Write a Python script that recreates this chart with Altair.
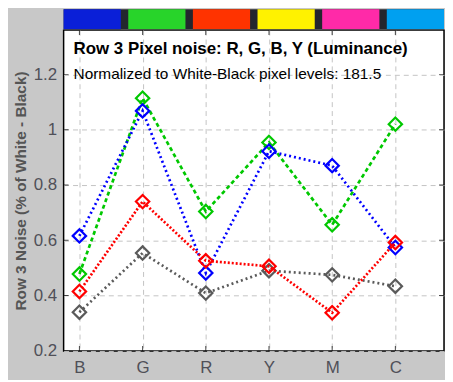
import altair as alt
import pandas as pd

categories = ["B", "G", "R", "Y", "M", "C"]
blue_vals = [0.616, 1.068, 0.482, 0.922, 0.870, 0.574]
green_vals = [0.478, 1.114, 0.704, 0.954, 0.656, 1.020]
red_vals = [0.415, 0.740, 0.526, 0.506, 0.338, 0.592]
gray_vals = [0.340, 0.554, 0.409, 0.490, 0.475, 0.434]

series_names = ["gray", "green", "blue", "red"]
series_values = [gray_vals, green_vals, blue_vals, red_vals]
series_colors = {"gray": "#5a5a5a", "green": "#00c800", "blue": "#0000ff", "red": "#ff0000"}
series_dash = {"gray": [2, 3], "green": [4, 3], "blue": [2, 3], "red": [2, 2]}

strip_names = ["Blue", "Green", "Red", "Yellow", "Magenta", "Cyan"]
strip_colors = ["#0a1fd8", "#28d42a", "#ff3300", "#fff200", "#ff2aa8", "#00a0f0"]

title_text = "Row 3 Pixel noise: R, G, B, Y (Luminance)"
subtitle_text = "Normalized to White-Black pixel levels: 181.5"
y_title = "Row 3 Noise (% of White - Black)"
y_ticks = [0.2, 0.4, 0.6, 0.8, 1.0, 1.2]

W, H = 383, 323
FONT = "Liberation Sans"

rows = []
for name, vals in zip(series_names, series_values):
    for i, (c, v) in enumerate(zip(categories, vals)):
        rows.append({"series": name, "pos": i + 1, "cat": c, "value": v})
df = pd.DataFrame(rows)

xscale = alt.Scale(domain=[0.75, 6.77], nice=False, zero=False)
yscale = alt.Scale(domain=[0.2, 1.36], nice=False, zero=False)

label_expr = "[" + ",".join("'%s'" % c for c in categories) + "][datum.value - 1]"

x_axis = alt.Axis(values=list(range(1, 7)), labelExpr=label_expr, title=None,
                  grid=True, gridDash=[5, 4], gridColor="#c4c4c4", ticks=False,
                  domain=False, labelFontSize=17, labelColor="#505058",
                  labelPadding=9, labelFont=FONT)
y_axis = alt.Axis(values=y_ticks,
                  labelExpr="datum.value == 1 ? '1' : format(datum.value, '.1f')",
                  title=y_title, titleFontSize=15.5, titleFont=FONT, titleColor="#555555",
                  titleFontWeight="bold", titlePadding=5,
                  grid=True, gridDash=[5, 4], gridColor="#c4c4c4", ticks=False,
                  domain=False, labelFontSize=17, labelColor="#505058",
                  labelPadding=7, labelFont=FONT)

layers = []
for name in series_names:
    sub = df[df.series == name]
    base = alt.Chart(sub).encode(
        x=alt.X("pos:Q", scale=xscale, axis=x_axis),
        y=alt.Y("value:Q", scale=yscale, axis=y_axis),
    )
    line = base.mark_line(color=series_colors[name], strokeDash=series_dash[name],
                          strokeWidth=2.7)
    pts = base.mark_point(shape="diamond", filled=False, color=series_colors[name],
                          strokeWidth=2.2, size=180, opacity=1)
    layers += [line, pts]

# inward tick marks on all four sides
xt = pd.DataFrame({"pos": list(range(1, 7))})
yt = pd.DataFrame({"value": y_ticks})
tick_top = alt.Chart(xt).mark_tick(color="black", size=10, thickness=1, clip=True).encode(
    x=alt.X("pos:Q", scale=xscale), y=alt.value(0))
tick_bot = alt.Chart(xt).mark_tick(color="black", size=10, thickness=1, clip=True).encode(
    x=alt.X("pos:Q", scale=xscale), y=alt.value(H))
tick_left = alt.Chart(yt).mark_tick(color="black", size=10, thickness=1, clip=True).encode(
    y=alt.Y("value:Q", scale=yscale), x=alt.value(0))
tick_right = alt.Chart(yt).mark_tick(color="black", size=10, thickness=1, clip=True).encode(
    y=alt.Y("value:Q", scale=yscale), x=alt.value(W))

txt_df = pd.DataFrame({"t": [title_text]})
sub_df = pd.DataFrame({"t": [subtitle_text]})
title_mark = alt.Chart(txt_df).mark_text(align="left", baseline="middle", fontSize=17,
                                         fontWeight="bold", font=FONT, color="black").encode(
    text="t:N", x=alt.value(10), y=alt.value(19))
sub_mark = alt.Chart(sub_df).mark_text(align="left", baseline="middle", fontSize=15.5,
                                       font=FONT, color="black").encode(
    text="t:N", x=alt.value(10), y=alt.value(44))

main = alt.layer(*layers, tick_top, tick_bot, tick_left, tick_right, title_mark, sub_mark).properties(
    width=W, height=H,
    view=alt.ViewBackground(fill="white", stroke="black", strokeWidth=1.5),
)

strip_df = pd.DataFrame({"name": strip_names, "color": strip_colors})
strip = alt.Chart(strip_df).mark_rect().encode(
    x=alt.X("name:N", sort=strip_names, axis=None,
            scale=alt.Scale(paddingInner=0.115, paddingOuter=0)),
    color=alt.Color("color:N", scale=None),
).properties(width=W, height=20,
             view=alt.ViewBackground(fill="#23262e", stroke=None))

chart = alt.vconcat(strip, main, spacing=0).properties(
    background="#c8c8c8",
    padding={"left": 4, "top": 0, "right": 0, "bottom": 2},
)

chart.save("out.html", embed_options={"renderer": "svg", "actions": False})
